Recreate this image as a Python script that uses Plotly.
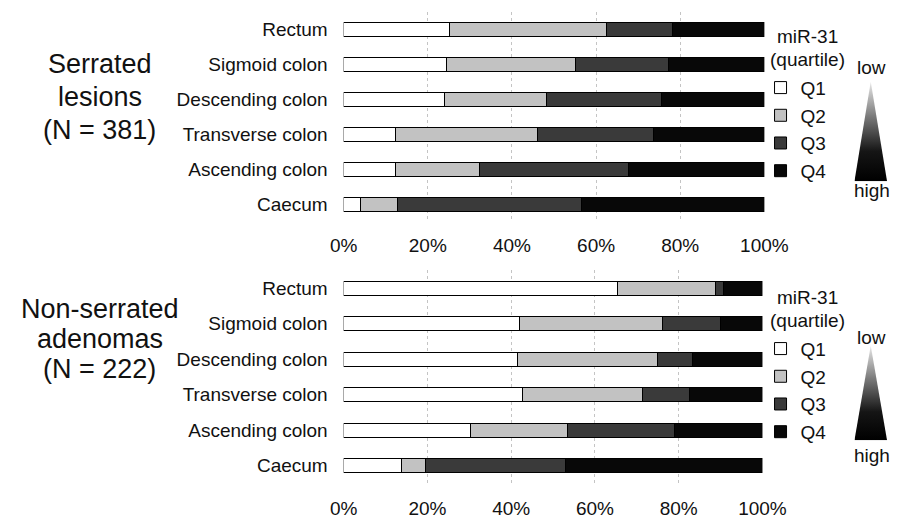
import plotly.graph_objects as go

# Colon sites, listed bottom-to-top as they appear on the y axis
sites = ["Caecum", "Ascending colon", "Transverse colon",
         "Descending colon", "Sigmoid colon", "Rectum"]
quartiles = ["Q1", "Q2", "Q3", "Q4"]
quartile_colors = ["#ffffff", "#c2c2c2", "#3a3a3a", "#080808"]

# Share (%) of serrated lesions in each miR-31 quartile, per site
serrated_q1 = [4.0, 12.4, 12.4, 24.0, 24.4, 25.1]
serrated_q2 = [8.8, 19.8, 33.6, 24.1, 30.6, 37.4]
serrated_q3 = [43.8, 35.5, 27.7, 27.5, 22.3, 15.7]
serrated_q4 = [43.4, 32.3, 26.3, 24.4, 22.7, 21.8]

# Share (%) of non-serrated adenomas in each miR-31 quartile, per site
nonserrated_q1 = [13.8, 30.2, 42.8, 41.6, 42.0, 65.4]
nonserrated_q2 = [5.7, 23.2, 28.5, 33.4, 34.1, 23.5]
nonserrated_q3 = [33.4, 25.6, 11.3, 8.2, 13.8, 1.7]
nonserrated_q4 = [47.1, 21.0, 17.4, 16.8, 10.1, 9.4]

x_ticks = [0, 20, 40, 60, 80, 100]
x_tick_labels = ["0%", "20%", "40%", "60%", "80%", "100%"]

panel_titles = [["Serrated", "lesions", "(N = 381)"],
                ["Non-serrated", "adenomas", "(N = 222)"]]
legend_title = ["miR-31", "(quartile)"]

FONT = "Liberation Sans, Arial, sans-serif"
W, H = 912, 519

fig = go.Figure()

panels = [
    ("x", "y", "legend", [serrated_q1, serrated_q2, serrated_q3, serrated_q4]),
    ("x2", "y2", "legend2", [nonserrated_q1, nonserrated_q2, nonserrated_q3, nonserrated_q4]),
]
for xa, ya, leg, series in panels:
    for name, color, values in zip(quartiles, quartile_colors, series):
        fig.add_trace(go.Bar(
            x=values, y=sites, orientation="h", name=name,
            marker=dict(color=color, line=dict(color="#000000", width=1)),
            xaxis=xa, yaxis=ya, legend=leg, showlegend=True,
            hovertemplate="%{y}: %{x:.1f}%<extra>" + name + "</extra>",
        ))

# low -> high gradient wedge beside each legend
wedge_x = [0, 1, 0.5, 0]
wedge_y = [0, 0, 1, 0]
for xa, ya in [("x3", "y3"), ("x4", "y4")]:
    fig.add_trace(go.Scatter(
        x=wedge_x, y=wedge_y, mode="lines", fill="toself",
        line=dict(width=0, color="rgba(0,0,0,0)"),
        fillgradient=dict(type="vertical",
                          colorscale=[[0, "#000000"], [0.3, "#151515"],
                                      [0.65, "#7a7a7a"], [1, "#e8e8e8"]]),
        xaxis=xa, yaxis=ya, showlegend=False, hoverinfo="skip",
    ))

def py(px):
    return 1 - px / H

def px_x(px):
    return px / W

xaxis_common = dict(
    range=[0, 100], tickvals=x_ticks, ticktext=x_tick_labels,
    showgrid=True, gridcolor="#c4c4c4", griddash="dot", gridwidth=1,
    zeroline=False, showline=False, ticks="",
    tickfont=dict(family=FONT, size=19, color="#111111"),
)
yaxis_common = dict(
    showgrid=False, zeroline=False, showline=False, ticks="",
    categoryorder="array", categoryarray=sites,
    range=[-0.5, 5.5], ticklabelstandoff=15,
    tickfont=dict(family=FONT, size=19, color="#111111"),
)

legend_common = dict(
    x=px_x(779), xanchor="left", yanchor="top",
    bgcolor="rgba(0,0,0,0)", traceorder="normal",
    font=dict(family=FONT, size=19, color="#111111"),
    itemclick=False, itemdoubleclick=False,
)

fig.update_layout(
    width=W, height=H,
    margin=dict(l=0, r=0, t=0, b=0),
    paper_bgcolor="white", plot_bgcolor="white",
    barmode="stack", bargap=0.605,
    font=dict(family=FONT, color="#111111"),
    xaxis=dict(domain=[px_x(344), px_x(783)], anchor="y",
               ticklabelstandoff=10, **xaxis_common),
    yaxis=dict(domain=[py(223.1), py(11.6)], anchor="x", **yaxis_common),
    xaxis2=dict(domain=[px_x(344), px_x(781)], anchor="y2",
                ticklabelstandoff=12, **xaxis_common),
    yaxis2=dict(domain=[py(485.3), py(271.4)], anchor="x2", **yaxis_common),
    xaxis3=dict(domain=[px_x(877), px_x(911)], range=[0, 1], visible=False,
                anchor="y3", fixedrange=True),
    yaxis3=dict(domain=[py(182), py(82)], range=[0, 1], visible=False,
                anchor="x3", fixedrange=True),
    xaxis4=dict(domain=[px_x(877), px_x(911)], range=[0, 1], visible=False,
                anchor="y4", fixedrange=True),
    yaxis4=dict(domain=[py(442), py(347)], range=[0, 1], visible=False,
                anchor="x4", fixedrange=True),
    legend=dict(y=py(69), **legend_common),
    legend2=dict(y=py(331), **legend_common),
    showlegend=True,
)

annotations = []
# Panel titles on the left, one line each
for lines, ys in zip(panel_titles, [[64, 97.5, 131], [310, 340, 370]]):
    for text, yy in zip(lines, ys):
        annotations.append(dict(
            text=text, x=px_x(89.5), y=py(yy), xref="paper", yref="paper",
            xanchor="center", yanchor="middle", showarrow=False,
            font=dict(family=FONT, size=27, color="#111111"),
        ))
# Legend headings, centred above the quartile keys
for top_ys in [[37, 60], [299, 322]]:
    for text, yy in zip(legend_title, top_ys):
        annotations.append(dict(
            text=text, x=px_x(828), y=py(yy), xref="paper", yref="paper",
            xanchor="center", yanchor="middle", showarrow=False,
            font=dict(family=FONT, size=19, color="#111111"),
        ))
# low / high labels around each wedge
for label, yy in [("low", 68), ("high", 191), ("low", 339), ("high", 457)]:
    annotations.append(dict(
        text=label, x=px_x(895), y=py(yy), xref="paper", yref="paper",
        xanchor="center", yanchor="middle", showarrow=False,
        font=dict(family=FONT, size=19, color="#111111"),
    ))
fig.update_layout(annotations=annotations)

fig.write_html("out.html")
